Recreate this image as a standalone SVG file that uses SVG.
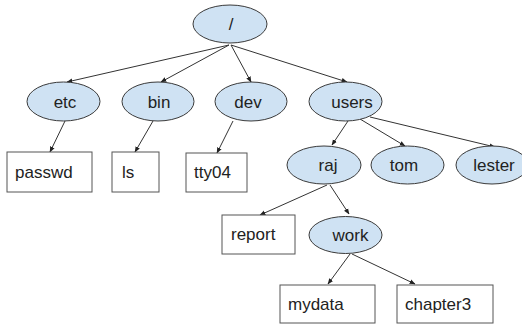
<svg xmlns="http://www.w3.org/2000/svg" width="522" height="326" viewBox="0 0 522 326">
<defs>
<style>
.n ellipse{fill:#cfe2f3;stroke:#3a3a3a;stroke-width:1}
.n rect{fill:#ffffff;stroke:#555555;stroke-width:1}
text{font-family:"Liberation Sans",Arial,sans-serif;font-size:17px;fill:#222222}
.c{text-anchor:middle}
#edges line{stroke:#333333;stroke-width:1;marker-end:url(#ah)}
</style>
<marker id="ah" viewBox="0 0 10 10" refX="9" refY="5" markerWidth="6" markerHeight="6" markerUnits="userSpaceOnUse" orient="auto">
<path d="M0,1 L10,5 L0,9 z" fill="#222222"/>
</marker>
</defs>
<rect width="522" height="326" fill="#ffffff"/>
<g id="edges">
<line x1="229" y1="45" x2="67" y2="82"/>
<line x1="229" y1="45" x2="161" y2="82"/>
<line x1="231" y1="45" x2="251" y2="82"/>
<line x1="231" y1="45" x2="347" y2="82"/>
<line x1="65" y1="121" x2="50" y2="152"/>
<line x1="153" y1="121" x2="135" y2="152"/>
<line x1="233" y1="121" x2="217" y2="153"/>
<line x1="348" y1="121" x2="332" y2="145"/>
<line x1="360" y1="119" x2="405" y2="146"/>
<line x1="370" y1="117" x2="495" y2="147"/>
<line x1="327" y1="185" x2="260" y2="215"/>
<line x1="330" y1="185" x2="349" y2="214"/>
<line x1="350" y1="254" x2="328" y2="284"/>
<line x1="352" y1="254" x2="415" y2="284"/>
</g>
<g id="root" class="n"><ellipse cx="230" cy="24" rx="37" ry="19"/><text class="c" x="231" y="30">/</text></g>
<g id="etc" class="n"><ellipse cx="63.5" cy="101.5" rx="36.5" ry="19.5"/><text class="c" x="65" y="108">etc</text></g>
<g id="bin" class="n"><ellipse cx="158" cy="101.5" rx="36" ry="19.5"/><text class="c" x="159" y="108">bin</text></g>
<g id="dev" class="n"><ellipse cx="251" cy="101.5" rx="36" ry="19.5"/><text class="c" x="248" y="108">dev</text></g>
<g id="users" class="n"><ellipse cx="345.5" cy="101.5" rx="36.5" ry="19.5"/><text class="c" x="352" y="108">users</text></g>
<g id="passwd" class="n"><rect x="7" y="152" width="85" height="40"/><text x="15" y="178">passwd</text></g>
<g id="ls" class="n"><rect x="112" y="152" width="47" height="40"/><text x="122" y="178">ls</text></g>
<g id="tty04" class="n"><rect x="186" y="153" width="61" height="39"/><text x="194" y="178">tty04</text></g>
<g id="raj" class="n"><ellipse cx="324" cy="165" rx="37" ry="19"/><text class="c" x="328" y="171">raj</text></g>
<g id="tom" class="n"><ellipse cx="407.5" cy="165" rx="36.5" ry="19"/><text class="c" x="404" y="171">tom</text></g>
<g id="lester" class="n"><ellipse cx="492" cy="165" rx="36" ry="19"/><text class="c" x="494" y="171">lester</text></g>
<g id="report" class="n"><rect x="222" y="215" width="73" height="39"/><text x="231" y="240">report</text></g>
<g id="work" class="n"><ellipse cx="345.5" cy="235" rx="36.5" ry="18.5"/><text class="c" x="350.5" y="241">work</text></g>
<g id="mydata" class="n"><rect x="280" y="285" width="95" height="38"/><text x="288" y="310">mydata</text></g>
<g id="chapter3" class="n"><rect x="397" y="285" width="96" height="38"/><text x="405" y="310">chapter3</text></g>
</svg>
